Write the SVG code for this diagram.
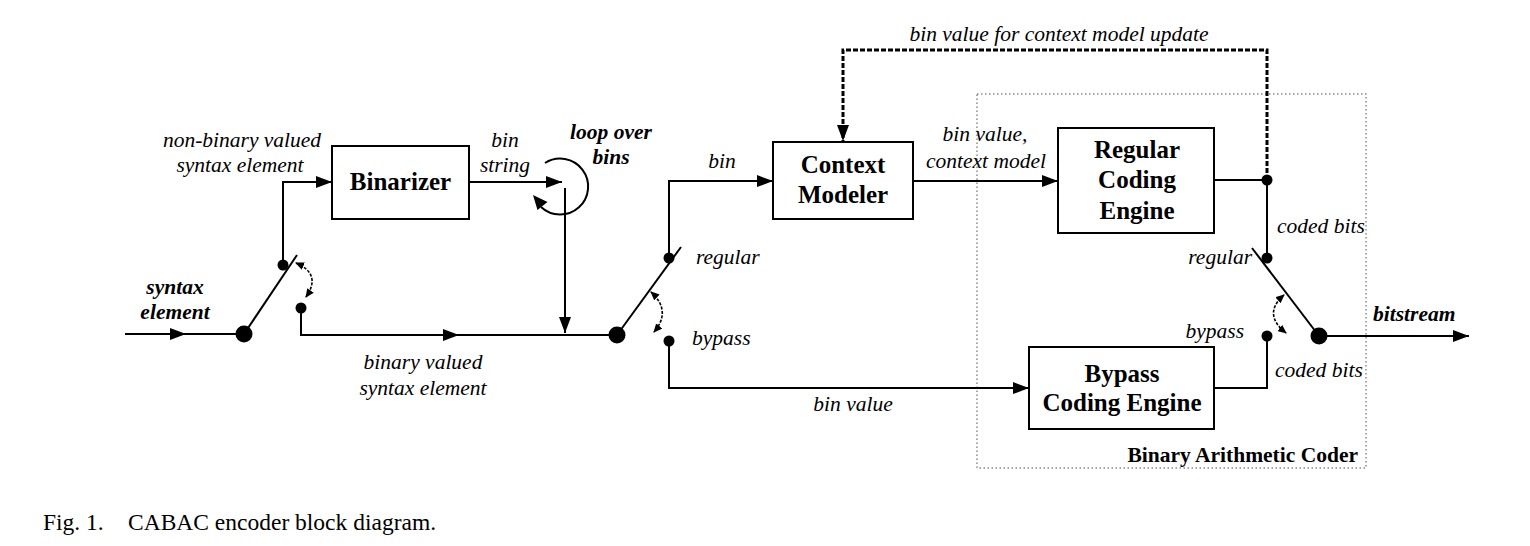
<svg xmlns="http://www.w3.org/2000/svg" width="1530" height="546" viewBox="0 0 1530 546">
<style>
.ln{fill:none;stroke:#000;stroke-width:2}
.box{fill:#fff;stroke:#000;stroke-width:2}
.dot{fill:#000}
.it{font-family:"Liberation Serif",serif;font-style:italic;font-size:21.5px;fill:#000}
.bi{font-family:"Liberation Serif",serif;font-style:italic;font-weight:bold;font-size:21.5px;fill:#000}
.bt{font-family:"Liberation Serif",serif;font-weight:bold;font-size:25px;fill:#000;text-anchor:middle}
.bs{font-family:"Liberation Serif",serif;font-weight:bold;font-size:21.5px;fill:#000}
.cap{font-family:"Liberation Serif",serif;font-size:23.5px;fill:#000}
.sw{fill:none;stroke:#000;stroke-width:1.6;stroke-dasharray:3 1.5}
</style>
<defs>
<marker id="arr" markerWidth="16" markerHeight="12" refX="16" refY="6" orient="auto" markerUnits="userSpaceOnUse">
<path d="M0 0 L16 6 L0 12 Z" fill="#000"/>
</marker>
<marker id="sm" markerWidth="9" markerHeight="8" refX="8" refY="4" orient="auto-start-reverse" markerUnits="userSpaceOnUse">
<path d="M0 0 L9 4 L0 8 Z" fill="#000"/>
</marker>
</defs>
<rect width="1530" height="546" fill="#fff"/>

<g id="bac-frame">
<rect x="977" y="94" width="389" height="374" fill="none" stroke="#8a8a8a" stroke-width="1.5" stroke-dasharray="1.5 2.5"/>
<text class="bs" x="1358" y="462" text-anchor="end">Binary Arithmetic Coder</text>
</g>

<g id="connectors">
<path class="ln" d="M125 334 H186" marker-end="url(#arr)"/>
<path class="ln" d="M184 334 H244"/>
<path class="ln" d="M244 334 L297 255"/>
<path class="ln" d="M283 265 V182 H332" marker-end="url(#arr)"/>
<path class="ln" d="M301 308 V335 H459" marker-end="url(#arr)"/>
<path class="ln" d="M457 335 H617"/>
<path class="ln" d="M469 182 H562" marker-end="url(#arr)"/>
<path class="ln" d="M565 188 V333" marker-end="url(#arr)"/>
<path class="ln" d="M545 163 A28 28 0 1 1 541 207"/>
<path d="M533 195 L547.5 202 L537.5 210 Z" fill="#000"/>
<path class="ln" d="M617 335 L681 247"/>
<path class="ln" d="M669 258 V181 H773" marker-end="url(#arr)"/>
<path class="ln" d="M669 341 V388 H1029" marker-end="url(#arr)"/>
<path class="ln" d="M913 181 H1058" marker-end="url(#arr)"/>
<path class="ln" d="M1214 180 H1267 V258"/>
<path class="ln" d="M1252 248 L1319 336"/>
<path class="ln" d="M1267 336 V388 H1214"/>
<path class="ln" d="M1319 336 H1469" marker-end="url(#arr)"/>
<path d="M1267 180 V50 H843 V141" fill="none" stroke="#000" stroke-width="3" stroke-dasharray="5 2" marker-end="url(#arr)"/>
<path class="sw" d="M296 263 Q322 274 306 297" marker-start="url(#sm)" marker-end="url(#sm)"/>
<path class="sw" d="M651 292 Q672 311 654 332" marker-start="url(#sm)" marker-end="url(#sm)"/>
<path class="sw" d="M1284 295 Q1262 314 1286 333" marker-start="url(#sm)" marker-end="url(#sm)"/>
<circle class="dot" cx="244" cy="334" r="8.5"/>
<circle class="dot" cx="283" cy="265" r="5.5"/>
<circle class="dot" cx="301" cy="308" r="5.5"/>
<circle class="dot" cx="617" cy="335" r="8.5"/>
<circle class="dot" cx="669" cy="258" r="5.5"/>
<circle class="dot" cx="669" cy="341" r="5.5"/>
<circle class="dot" cx="1267" cy="180" r="5.5"/>
<circle class="dot" cx="1267" cy="258" r="5.5"/>
<circle class="dot" cx="1267" cy="336" r="5.5"/>
<circle class="dot" cx="1319" cy="336" r="8.5"/>
</g>

<g id="binarizer">
<rect class="box" x="332" y="146" width="137" height="73"/>
<text class="bt" x="400.5" y="190">Binarizer</text>
</g>
<g id="context-modeler">
<rect class="box" x="773" y="142" width="140" height="77"/>
<text class="bt" x="843" y="173">Context</text>
<text class="bt" x="843" y="203">Modeler</text>
</g>
<g id="regular-coding-engine">
<rect class="box" x="1058" y="128" width="156" height="105"/>
<text class="bt" x="1137" y="158">Regular</text>
<text class="bt" x="1137" y="188">Coding</text>
<text class="bt" x="1137" y="219">Engine</text>
</g>
<g id="bypass-coding-engine">
<rect class="box" x="1029" y="347" width="185" height="82"/>
<text class="bt" x="1122" y="382">Bypass</text>
<text class="bt" x="1122" y="411">Coding Engine</text>
</g>

<g id="labels">
<text class="it" x="242" y="147" text-anchor="middle">non-binary valued</text>
<text class="it" x="240" y="172" text-anchor="middle">syntax element</text>
<text class="it" x="505" y="147" text-anchor="middle">bin</text>
<text class="it" x="505" y="172" text-anchor="middle">string</text>
<text class="bi" x="611" y="139" text-anchor="middle">loop over</text>
<text class="bi" x="611" y="164" text-anchor="middle">bins</text>
<text class="bi" x="175" y="294" text-anchor="middle">syntax</text>
<text class="bi" x="175" y="319" text-anchor="middle">element</text>
<text class="it" x="423" y="369" text-anchor="middle">binary valued</text>
<text class="it" x="423" y="395" text-anchor="middle">syntax element</text>
<text class="it" x="722" y="168" text-anchor="middle">bin</text>
<text class="it" x="696" y="264">regular</text>
<text class="it" x="692" y="345">bypass</text>
<text class="it" x="853" y="411" text-anchor="middle">bin value</text>
<text class="it" x="985" y="141" text-anchor="middle">bin value,</text>
<text class="it" x="986" y="168" text-anchor="middle">context model</text>
<text class="it" x="1059" y="41" text-anchor="middle">bin value for context model update</text>
<text class="it" x="1277" y="233">coded bits</text>
<text class="it" x="1275" y="377">coded bits</text>
<text class="it" x="1252" y="264" text-anchor="end">regular</text>
<text class="it" x="1244" y="338" text-anchor="end">bypass</text>
<text class="bi" x="1373" y="321">bitstream</text>
</g>

<text class="cap" x="43" y="530">Fig. 1.</text>
<text class="cap" x="128" y="530">CABAC encoder block diagram.</text>
</svg>
